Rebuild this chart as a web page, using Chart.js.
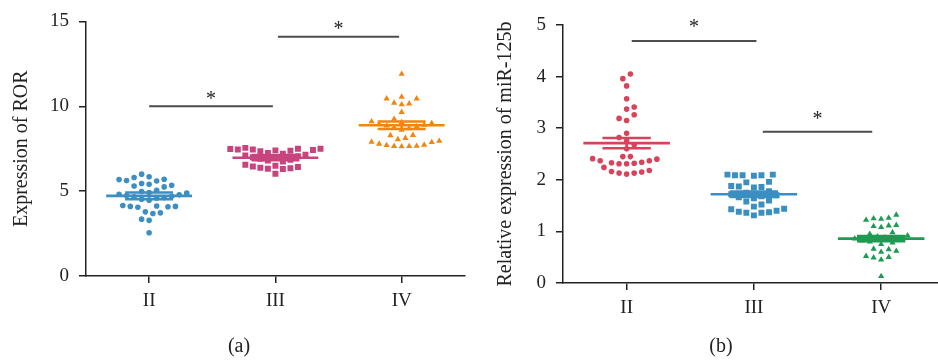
<!DOCTYPE html>
<html>
<head>
<meta charset="utf-8">
<script src="https://cdn.jsdelivr.net/npm/chart.js@4.4.1/dist/chart.umd.min.js"></script>
<style>
  body { margin: 0; width: 938px; height: 360px; overflow: hidden; position: relative; background: #fff; }
  canvas { position: absolute; top: 0; }
  .cap { position: absolute; top: 334px; font: 20px "Liberation Serif", "DejaVu Serif", serif; color: #222; transform: translateX(-50%); }
</style>
</head>
<body>
<canvas id="chartA" width="469" height="360" style="left:0"></canvas>
<canvas id="chartB" width="480" height="360" style="left:469px"></canvas>
<div class="cap" style="left:239px">(a)</div>
<div class="cap" style="left:721px">(b)</div>
<script>
const categories = ['II', 'III', 'IV'];

// panel (a): Expression of ROR
const rorII = [6.0, 5.85, 5.8, 5.7, 5.68, 5.62, 5.6, 5.45, 5.4, 5.35, 5.3, 5.25,
  5.05, 4.98, 4.92, 4.88, 4.82, 4.78, 4.74, 4.7, 4.66, 4.62, 4.58, 4.52, 4.46,
  4.15, 4.12, 4.1, 4.1, 4.08, 4.05, 3.78, 3.72, 3.68, 3.35, 3.28, 2.55];
const rorIII = [7.55, 7.5, 7.5, 7.48, 7.45, 7.45, 7.42, 7.4, 7.38, 7.35,
  7.25, 7.2, 7.15, 7.1, 7.05, 7.0, 6.95, 6.9, 6.85, 6.8, 6.75,
  6.55, 6.5, 6.45, 6.42, 6.38, 6.35, 6.32, 6.3, 6.02];
const rorIV = [11.9, 10.55, 10.45, 10.45, 10.2, 10.15, 10.1, 9.65, 9.25,
  9.1, 9.05, 9.0, 8.95, 8.9, 8.85, 8.8, 8.75, 8.7, 8.6,
  8.3, 8.28, 8.12,
  8.05, 7.9, 7.78, 7.7, 7.65, 7.63, 7.64, 7.66, 7.72, 7.88, 7.95];
const rorMean = [4.72, 6.97, 8.88];
const rorSem = [0.2, 0.15, 0.22];
// [from, to, bar level, star level]
const rorSig = [[0.0, 0.98, 10.0, 10.57], [1.02, 1.98, 14.1, 14.65]];

// panel (b): Relative expression of miR-125b
const mirII = [4.05, 3.96, 3.82, 3.57, 3.41, 3.37, 3.26, 3.19, 3.15, 2.9,
  2.82, 2.75, 2.68, 2.6,
  2.45, 2.4, 2.37, 2.33, 2.31, 2.31, 2.32, 2.34, 2.37, 2.41, 2.45,
  2.24, 2.16, 2.13, 2.11, 2.13, 2.15, 2.18];
const mirIII = [2.1, 2.09, 2.09, 2.08, 2.1, 2.09, 1.96, 1.95, 1.88, 1.86, 1.85, 1.87,
  1.78, 1.75, 1.72, 1.7, 1.68, 1.66, 1.64, 1.6, 1.58, 1.52, 1.48,
  1.44, 1.43, 1.4, 1.38, 1.37, 1.36, 1.36, 1.31];
const mirIV = [1.32, 1.26, 1.25, 1.24, 1.22, 1.12, 1.11, 1.1, 1.08,
  0.98, 0.95, 0.92, 0.9, 0.88, 0.86, 0.84, 0.82, 0.8, 0.78, 0.75,
  0.66, 0.65, 0.62, 0.6, 0.52, 0.5, 0.49, 0.45, 0.13];
const mirMean = [2.71, 1.72, 0.86];
const mirSem = [0.1, 0.05, 0.05];
const mirSig = [[0.04, 1.02, 4.69, 5.0], [1.07, 1.93, 2.93, 3.22]];

const SERIF = '"Liberation Serif", "DejaVu Serif", serif';
const INK = '#222';

// simple swarm: spread points sideways so they don't overlap (pixel units)
function swarm(values, center, pxY, pxX, d) {
  const sorted = values.slice().sort((a, b) => a - b);
  const placed = [];
  const h = d / 2;
  sorted.forEach((v, i) => {
    const y = v * pxY;
    for (let k = 0; k < 60; k++) {
      const sides = k === 0 ? [0] : (i % 2 ? [k * h, -k * h] : [-k * h, k * h]);
      let found = null;
      for (const dx of sides) {
        const hit = placed.some(p => (p.dx - dx) ** 2 + (p.y - y) ** 2 < d * d);
        if (!hit) { found = dx; break; }
      }
      if (found !== null) { placed.push({ dx: found, y: y, v: v }); break; }
    }
  });
  return placed.map(p => ({ x: center + p.dx / pxX, y: p.v }));
}

function errorLines(m, s, i) {
  return [
    { x: i - 0.34, y: m }, { x: i + 0.34, y: m }, { x: i, y: null },
    { x: i - 0.19, y: m + s }, { x: i + 0.19, y: m + s }, { x: i, y: null },
    { x: i - 0.19, y: m - s }, { x: i + 0.19, y: m - s }, { x: i, y: null },
    { x: i, y: m - s }, { x: i, y: m + s }
  ];
}

const asterisks = {
  id: 'asterisks',
  afterDatasetsDraw(chart, args, opts) {
    const ctx = chart.ctx;
    const xs = chart.scales.x, ys = chart.scales.y;
    ctx.save();
    ctx.fillStyle = INK;
    ctx.font = '20px ' + SERIF;
    ctx.textAlign = 'center';
    ctx.textBaseline = 'alphabetic';
    opts.sig.forEach(s => {
      const x = xs.getPixelForValue((s[0] + s[1]) / 2);
      const y = ys.getPixelForValue(s[3]);
      ctx.fillText('*', x, y + 8);
    });
    ctx.restore();
  }
};

function makePanel(id, groups, colors, styles, radii, means, sems, sig, yMax, yStep, yTitle, geo) {
  const pxY = geo.plotH / yMax;
  const pxX = geo.plotW / 3;
  const datasets = [];
  groups.forEach((vals, i) => {
    datasets.push({
      type: 'scatter',
      data: swarm(vals, i, pxY, pxX, 7.6),
      pointStyle: styles[i],
      pointRadius: radii[i],
      backgroundColor: colors[i],
      borderWidth: 0,
      order: 2
    });
  });
  groups.forEach((vals, i) => {
    datasets.push({
      type: 'line',
      data: errorLines(means[i], sems[i], i),
      borderColor: colors[i],
      borderWidth: 2.6,
      pointRadius: 0,
      spanGaps: false,
      order: 1
    });
  });
  sig.forEach(s => {
    datasets.push({
      type: 'line',
      data: [{ x: s[0], y: s[2] }, { x: s[1], y: s[2] }],
      borderColor: '#4d4d4d',
      borderWidth: 2,
      pointRadius: 0,
      order: 0
    });
  });

  const tickFont = { family: SERIF, size: 19 };
  return new Chart(document.getElementById(id), {
    type: 'scatter',
    data: { datasets: datasets },
    plugins: [asterisks],
    options: {
      responsive: false,
      animation: false,
      layout: { padding: { top: geo.top, left: geo.left, right: geo.right, bottom: 0 } },
      plugins: {
        legend: { display: false },
        tooltip: { enabled: false },
        asterisks: { sig: sig }
      },
      scales: {
        x: {
          type: 'linear',
          min: -0.5,
          max: 2.5,
          afterBuildTicks: s => { s.ticks = [0, 1, 2].map(v => ({ value: v })); },
          afterFit: s => { s.height = geo.xH; },
          ticks: { callback: v => categories[v], font: tickFont, color: INK, padding: 7, maxRotation: 0 },
          grid: { drawOnChartArea: false, drawTicks: true, tickLength: 7, color: INK, lineWidth: 1.5 },
          border: { display: true, color: INK, width: 1.5 }
        },
        y: {
          min: 0,
          max: yMax,
          afterFit: s => { s.width = geo.yW; },
          ticks: { stepSize: yStep, font: tickFont, color: INK, padding: 10 },
          grid: { drawOnChartArea: false, drawTicks: true, tickLength: 7, color: INK, lineWidth: 1.5 },
          border: { display: true, color: INK, width: 1.5 },
          title: { display: true, text: yTitle, font: { family: SERIF, size: 20 }, color: INK, padding: { top: 4, bottom: 0 } }
        }
      }
    }
  });
}

makePanel('chartA', [rorII, rorIII, rorIV],
  ['#3d8fc2', '#c9437e', '#f0860f'], ['circle', 'rect', 'triangle'], [2.8, 4.2, 3.6],
  rorMean, rorSem, rorSig, 15, 5, 'Expression of ROR',
  { top: 19, left: 6, right: 0, yW: 80, xH: 84, plotH: 257, plotW: 383 });

makePanel('chartB', [mirII, mirIII, mirIV],
  ['#d8435c', '#3b8fc0', '#1f9a52'], ['circle', 'rect', 'triangle'], [2.8, 4.2, 3.6],
  mirMean, mirSem, mirSig, 5, 1, 'Relative expression of miR-125b',
  { top: 25, left: 21, right: 2, yW: 73, xH: 77, plotH: 258, plotW: 384 });
</script>
</body>
</html>
